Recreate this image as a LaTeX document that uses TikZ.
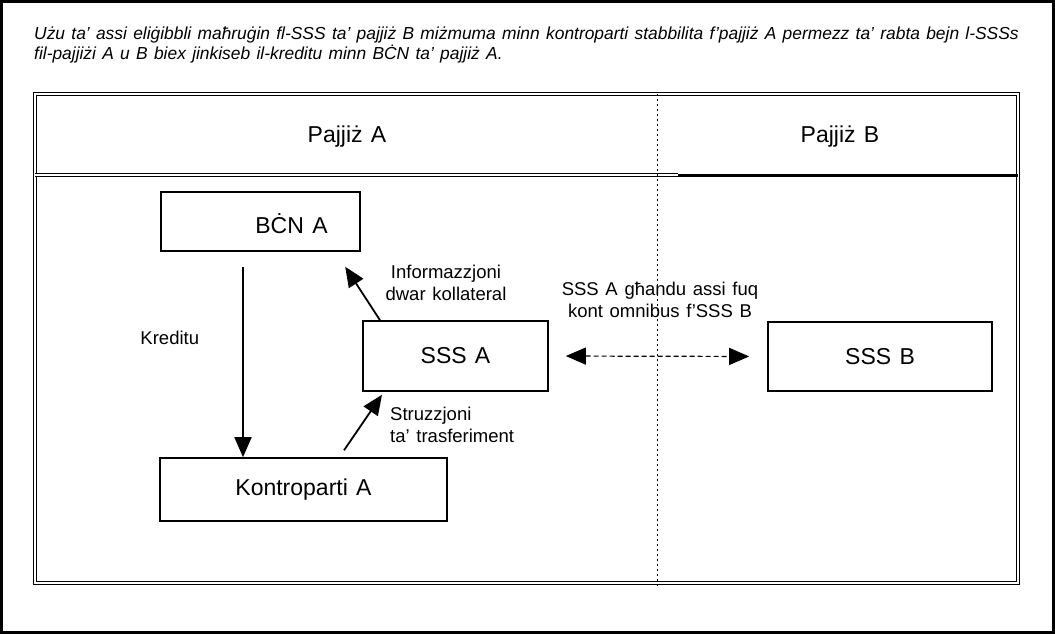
\documentclass[tikz,border=0pt]{standalone}
\usepackage{fontspec}
\setmainfont{Liberation Sans}[WordSpace=1.3]
\usetikzlibrary{arrows.meta, positioning}

\begin{document}
\begin{tikzpicture}[
    x=1pt, y=-1pt,
    box/.style={
        rectangle,
        draw=black,
        line width=1.6pt,
        inner sep=0pt,
        font=\fontsize{23}{27}\selectfont
    },
    country/.style={font=\fontsize{23}{27}\selectfont},
    lbl/.style={font=\fontsize{18.5}{22}\selectfont, inner sep=0pt},
    flow/.style={-{Triangle[length=20pt, width=17pt]}, line width=1.8pt},
    link/.style={{Triangle[length=20pt, width=17pt]}-{Triangle[length=20pt, width=17pt]}, line width=1.2pt, dash pattern=on 5pt off 3pt}
]
    \useasboundingbox (0,0) rectangle (1055,634);
    \draw[line width=3pt] (1.5,1.5) rectangle (1053.5,632.5);

    % Caption
    \node[anchor=north west, inner sep=0pt, align=left,
          font=\fontsize{17.4}{19.5}\selectfont\itshape] (cap) at (34,27)
        {Użu ta’ assi eliġibbli maħruġin fl-SSS ta’ pajjiż B miżmuma minn kontroparti stabbilita f’pajjiż A permezz ta’ rabta bejn l-SSSs\\
         fil-pajjiżi A u B biex jinkiseb il-kreditu minn BĊN ta’ pajjiż A.};

    % Frame with the two countries
    \draw[line width=1.2pt, double distance=2pt] (35,94) rectangle (1018,583);
    \draw[line width=1.2pt, double distance=2pt] (35,175) -- (678,175);
    \draw[line width=3pt] (678,175) -- (1018,175);
    \draw[line width=0.8pt, dash pattern=on 2pt off 3pt] (657,94) -- (657,588);
    \node[country] (pa) at (347,137) {Pajjiż A};
    \node[country] (pb) at (840,137) {Pajjiż B};

    % Country A
    \node[box, minimum width=199pt, minimum height=59pt,
          label={[font=\fontsize{23}{27}\selectfont, xshift=31pt, yshift=-2pt]center:BĊN A}] (bcn) at (260.5,221.5) {};
    \node[box, minimum width=185pt, minimum height=70pt] (ssa) at (455.5,356) {SSS A};
    \node[box, minimum width=287pt, minimum height=63pt] (kon) at (303.5,489.5) {Kontroparti A};

    % Country B
    \node[box, minimum width=224pt, minimum height=69pt] (ssb) at (880,356.5) {SSS B};

    % Flows
    \draw[flow, shorten <=15pt] ([xshift=-17.5pt]bcn.south) -- node[lbl, pos=0.42, left=43pt] (kred) {Kreditu} ([xshift=-60.5pt]kon.north);
    \draw[flow, shorten >=17.8pt] ([xshift=-75.5pt]ssa.north) -- ([xshift=75pt]bcn.south);
    \draw[flow, shorten <=8.4pt, shorten >=3.6pt] ([xshift=35.8pt]kon.north) -- ([xshift=-71.5pt]ssa.south);
    \draw[link, shorten <=17pt, shorten >=18pt] (ssa.east) -- (ssb.west);

    % Flow labels
    \node[lbl, align=center] (info) at (446,283) {Informazzjoni\\dwar kollateral};
    \node[lbl, align=left, anchor=west] (struz) at (390,425) {Struzzjoni\\ta’ trasferiment};
    \node[lbl, align=center] (omni) at (660,300) {SSS A għandu assi fuq\\kont omnibus f’SSS B};
\end{tikzpicture}
\end{document}
